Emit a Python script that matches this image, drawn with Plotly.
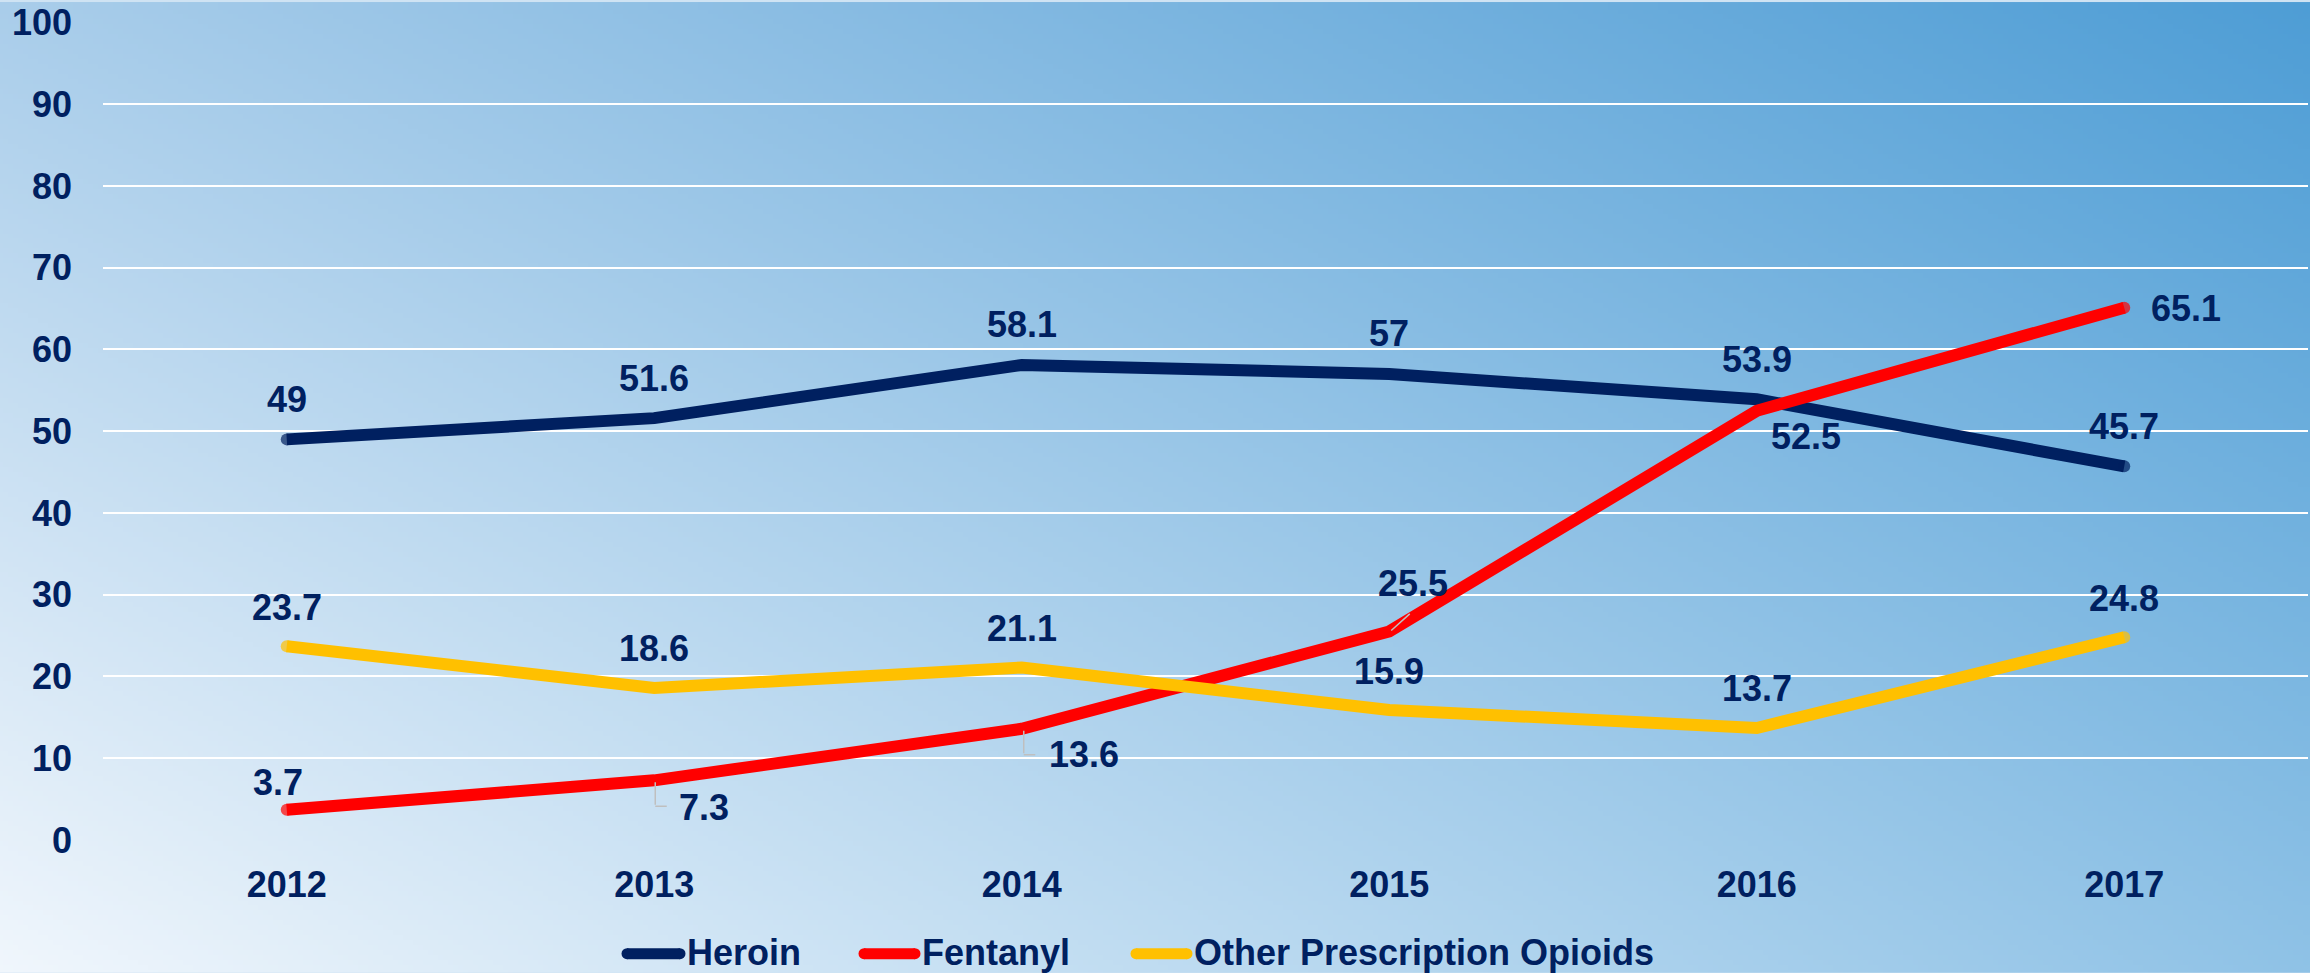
import base64, struct, zlib
import numpy as np
import plotly.graph_objects as go

# ---------------- data ----------------
years = ["2012", "2013", "2014", "2015", "2016", "2017"]
heroin = [49, 51.6, 58.1, 57, 53.9, 45.7]
fentanyl = [3.7, 7.3, 13.6, 25.5, 52.5, 65.1]
other_opioids = [23.7, 18.6, 21.1, 15.9, 13.7, 24.8]
series_names = ["Heroin", "Fentanyl", "Other Prescription Opioids"]
y_ticks = [0, 10, 20, 30, 40, 50, 60, 70, 80, 90, 100]

# ---------------- style ----------------
W, H = 2310, 973
ML, MR, MT, MB = 103, 2, 20, 133
PW, PH = W - ML - MR, H - MT - MB
NAVY = "#002060"
COLORS = [NAVY, "#FF0000", "#FFC000"]
FONT = "Liberation Sans, Arial, sans-serif"
FS = 36
LW = 12

# label placement: (xanchor, xshift px, yshift px) per point
heroin_lab = [("center", 0, 40)] * 6
fent_lab = [("center", -9, 27), ("left", 23, -27), ("left", 25, -26),
            ("center", 24, 48), ("center", 49, -26), ("left", 25, -1)]
other_lab = [("center", 0, 39)] * 6
# leader segments for fentanyl labels: list of (xshift, yshift, ax, ay) in px
fent_leaders = {1: [(1, -2, 0, 24), (1, -26, 13, 0)],
                2: [(2, -2, 0, 24), (2, -26, 13, 0)],
                3: [(2, 1, 20, -18)]}


def gradient_png(w, h):
    tl = np.array([169, 205, 234], float)
    tr = np.array([78, 157, 213], float)
    bl = np.array([240, 246, 252], float)
    br = np.array([143, 194, 230], float)
    u = np.linspace(0, 1, w)[None, :, None]
    v = np.linspace(0, 1, h)[:, None, None]
    top = tl * (1 - u) + tr * u
    bot = bl * (1 - u) + br * u
    img = (top * (1 - v) + bot * v).round().astype(np.uint8)
    raw = b"".join(b"\x00" + img[r].tobytes() for r in range(h))

    def chunk(t, d):
        c = struct.pack(">I", len(d)) + t + d
        return c + struct.pack(">I", zlib.crc32(t + d) & 0xffffffff)

    png = b"\x89PNG\r\n\x1a\n"
    png += chunk(b"IHDR", struct.pack(">IIBBBBB", w, h, 8, 2, 0, 0, 0))
    png += chunk(b"IDAT", zlib.compress(raw, 9))
    png += chunk(b"IEND", b"")
    return "data:image/png;base64," + base64.b64encode(png).decode()


fig = go.Figure()
for name, vals, col in zip(series_names, [heroin, fentanyl, other_opioids], COLORS):
    ends = [LW if i in (0, len(vals) - 1) else 0 for i in range(len(vals))]
    fig.add_trace(go.Scatter(x=years, y=vals, name=name, mode="lines+markers",
                             line=dict(color=col, width=LW),
                             marker=dict(color=col, size=ends, line=dict(width=0)),
                             showlegend=False, hoverinfo="x+y+name"))

annotations = []
shapes = []
# leader lines first (drawn beneath labels); x given as category index
for i, segs in fent_leaders.items():
    for xs, ys, ax, ay in segs:
        annotations.append(dict(x=i, y=fentanyl[i], xref="x", yref="y", text="",
                                showarrow=True, arrowhead=0, arrowwidth=1.5,
                                arrowcolor="#BFBFBF", ax=ax, ay=ay, xshift=xs, yshift=ys,
                                standoff=0, startstandoff=0))
for vals, labs in [(heroin, heroin_lab), (fentanyl, fent_lab), (other_opioids, other_lab)]:
    for i, v in enumerate(vals):
        xa, xs, ys = labs[i]
        annotations.append(dict(x=i, y=v, xref="x", yref="y", text=f"{v:g}",
                                showarrow=False, xanchor=xa, yanchor="middle",
                                xshift=xs, yshift=ys,
                                font=dict(family=FONT, size=FS, color=NAVY)))


# custom legend
def px_x(p):
    return (p - ML) / PW


def px_y(p):
    return (H - MB - p) / PH


leg_items = [(622, 685), (859, 920), (1131, 1192)]
for (x0, x1), name, col in zip(leg_items, series_names, COLORS):
    shapes.append(dict(type="line", xref="paper", yref="paper",
                       x0=px_x(x0 + 5), x1=px_x(x1 - 5), y0=px_y(954), y1=px_y(954),
                       line=dict(color=col, width=11)))
    for xe in (x0 + 5, x1 - 5):
        shapes.append(dict(type="circle", xref="paper", yref="paper",
                           x0=px_x(xe - 5.5), x1=px_x(xe + 5.5),
                           y0=px_y(954 + 5.5), y1=px_y(954 - 5.5),
                           fillcolor=col, line=dict(width=0)))
    annotations.append(dict(x=px_x(x1), y=px_y(953), xref="paper", yref="paper",
                            text=name, showarrow=False, xanchor="left", yanchor="middle",
                            font=dict(family=FONT, size=FS, color=NAVY)))

fig.update_layout(
    width=W, height=H,
    margin=dict(l=ML, r=MR, t=MT, b=MB, pad=0),
    paper_bgcolor="#cfe3f3",
    plot_bgcolor="rgba(0,0,0,0)",
    showlegend=False,
    font=dict(family=FONT, size=FS, color=NAVY, weight="bold"),
    annotations=annotations,
    shapes=shapes,
    images=[dict(source=gradient_png(462, 195), xref="paper", yref="paper",
                 x=-ML / PW, y=1 + MT / PH, sizex=W / PW, sizey=H / PH,
                 xanchor="left", yanchor="top", sizing="stretch", layer="below")],
    xaxis=dict(type="category", range=[-0.5, 5.5], showgrid=False, zeroline=False,
               showline=False, ticks="", ticklabelstandoff=20,
               tickfont=dict(family=FONT, size=FS, color=NAVY, weight="bold")),
    yaxis=dict(range=[0, 100.05], tickvals=y_ticks, showgrid=True, gridcolor="white",
               gridwidth=2, zeroline=False, showline=False, ticks="",
               ticklabelstandoff=30,
               tickfont=dict(family=FONT, size=FS, color=NAVY, weight="bold")),
)

fig.write_html("out.html", config={"displayModeBar": False},
               post_script="document.body.style.margin='0';")
